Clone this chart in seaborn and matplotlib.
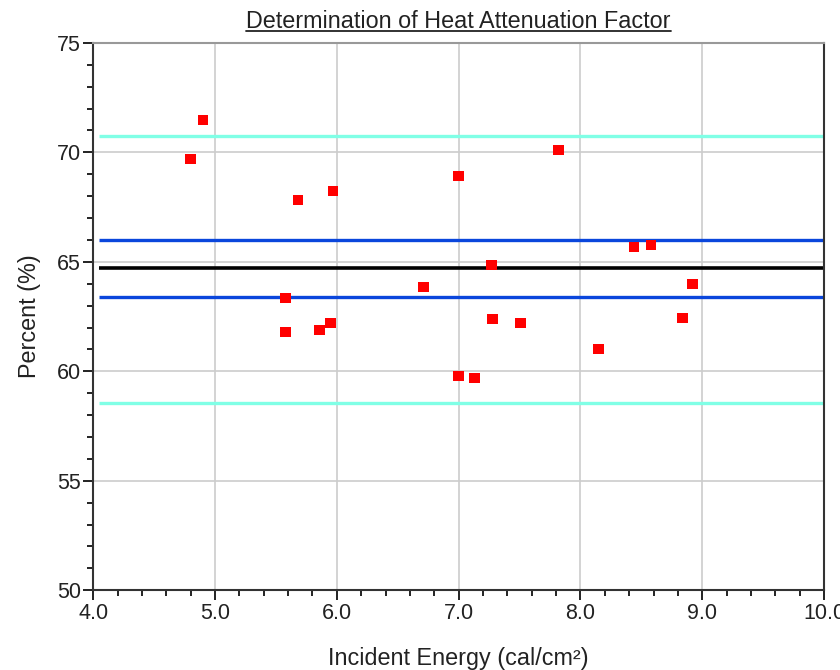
import numpy as np
import pandas as pd
import matplotlib
matplotlib.use("Agg")
import matplotlib.pyplot as plt
import seaborn as sns
from matplotlib.lines import Line2D
from matplotlib.ticker import MultipleLocator

# --- Data ---
energy = [4.80, 4.90, 5.68, 5.97, 5.58, 5.58, 5.86, 5.95, 6.71, 7.00, 7.00,
          7.13, 7.27, 7.28, 7.51, 7.82, 8.15, 8.44, 8.58, 8.84, 8.92]
percent = [69.70, 71.48, 67.82, 68.24, 63.35, 61.79, 61.88, 62.20, 63.85, 68.92, 59.78,
           59.69, 64.85, 62.39, 62.20, 70.11, 61.01, 65.68, 65.77, 62.43, 63.99]

mean_line = 64.72
inner_band = [63.38, 66.02]
outer_band = [58.56, 70.76]
line_start = 4.05
line_end = 10.0


def set_style():
    sns.set_theme(style="whitegrid")
    plt.rcParams['font.family'] = ['Liberation Sans', 'DejaVu Sans']
    plt.rcParams['axes.edgecolor'] = '#555555'
    plt.rcParams['grid.color'] = '#cccccc'
    plt.rcParams['grid.linewidth'] = 1.2


def main():
    set_style()
    df = pd.DataFrame({'Energy': energy, 'Percent': percent})

    fig = plt.figure(figsize=(8.4, 6.7), dpi=100)
    ax = fig.add_axes([0.111, 0.119, 0.870, 0.817])

    ax.hlines(outer_band, line_start, line_end, color='#80FFE6', lw=2.4, zorder=2)
    ax.hlines(inner_band, line_start, line_end, color='#0A46DC', lw=2.4, zorder=2)
    ax.hlines([mean_line], line_start, line_end, color='black', lw=2.6, zorder=2)

    sns.scatterplot(data=df, x='Energy', y='Percent', marker='s', s=58,
                    color='#FF0000', edgecolor='none', ax=ax, zorder=3)

    ax.set_xlim(4.0, 10.0)
    ax.set_ylim(50, 75)
    ax.xaxis.set_major_locator(MultipleLocator(1.0))
    ax.xaxis.set_minor_locator(MultipleLocator(0.2))
    ax.yaxis.set_major_locator(MultipleLocator(5))
    ax.yaxis.set_minor_locator(MultipleLocator(1))
    ax.set_xticklabels([f"{v:.1f}" for v in ax.get_xticks()])
    ax.tick_params(which='both', direction='out', color='#222222', labelsize=15.5,
                   labelcolor='#222222', bottom=True, left=True, pad=2)
    ax.tick_params(which='major', length=7, width=1.4)
    ax.tick_params(which='minor', length=4, width=1.4)
    ax.grid(which='major', color='#cccccc', lw=1.2)
    ax.grid(which='minor', visible=False)

    for side in ['left', 'bottom']:
        ax.spines[side].set_color('#333333')
        ax.spines[side].set_linewidth(1.5)
    ax.spines['top'].set_color('#999999')
    ax.spines['top'].set_linewidth(1.5)
    ax.spines['right'].set_color('#333333')
    ax.spines['right'].set_linewidth(1.5)

    ax.set_xlabel("Incident Energy (cal/cm²)", fontsize=16.8, color='#222222', labelpad=17)
    ax.set_ylabel("Percent (%)", fontsize=16.8, color='#222222', labelpad=11)
    title = ax.set_title("Determination of Heat Attenuation Factor", fontsize=16.8,
                         color='#222222', pad=11)

    # underline the title
    fig.canvas.draw()
    bb = title.get_window_extent(renderer=fig.canvas.get_renderer())
    bb = bb.transformed(fig.transFigure.inverted())
    y_ul = bb.y0 + 0.003
    fig.add_artist(Line2D([bb.x0, bb.x1], [y_ul, y_ul], color='#222222', lw=1.3,
                          transform=fig.transFigure))

    fig.savefig("out.png", dpi=100)
    plt.close(fig)


if __name__ == "__main__":
    main()
